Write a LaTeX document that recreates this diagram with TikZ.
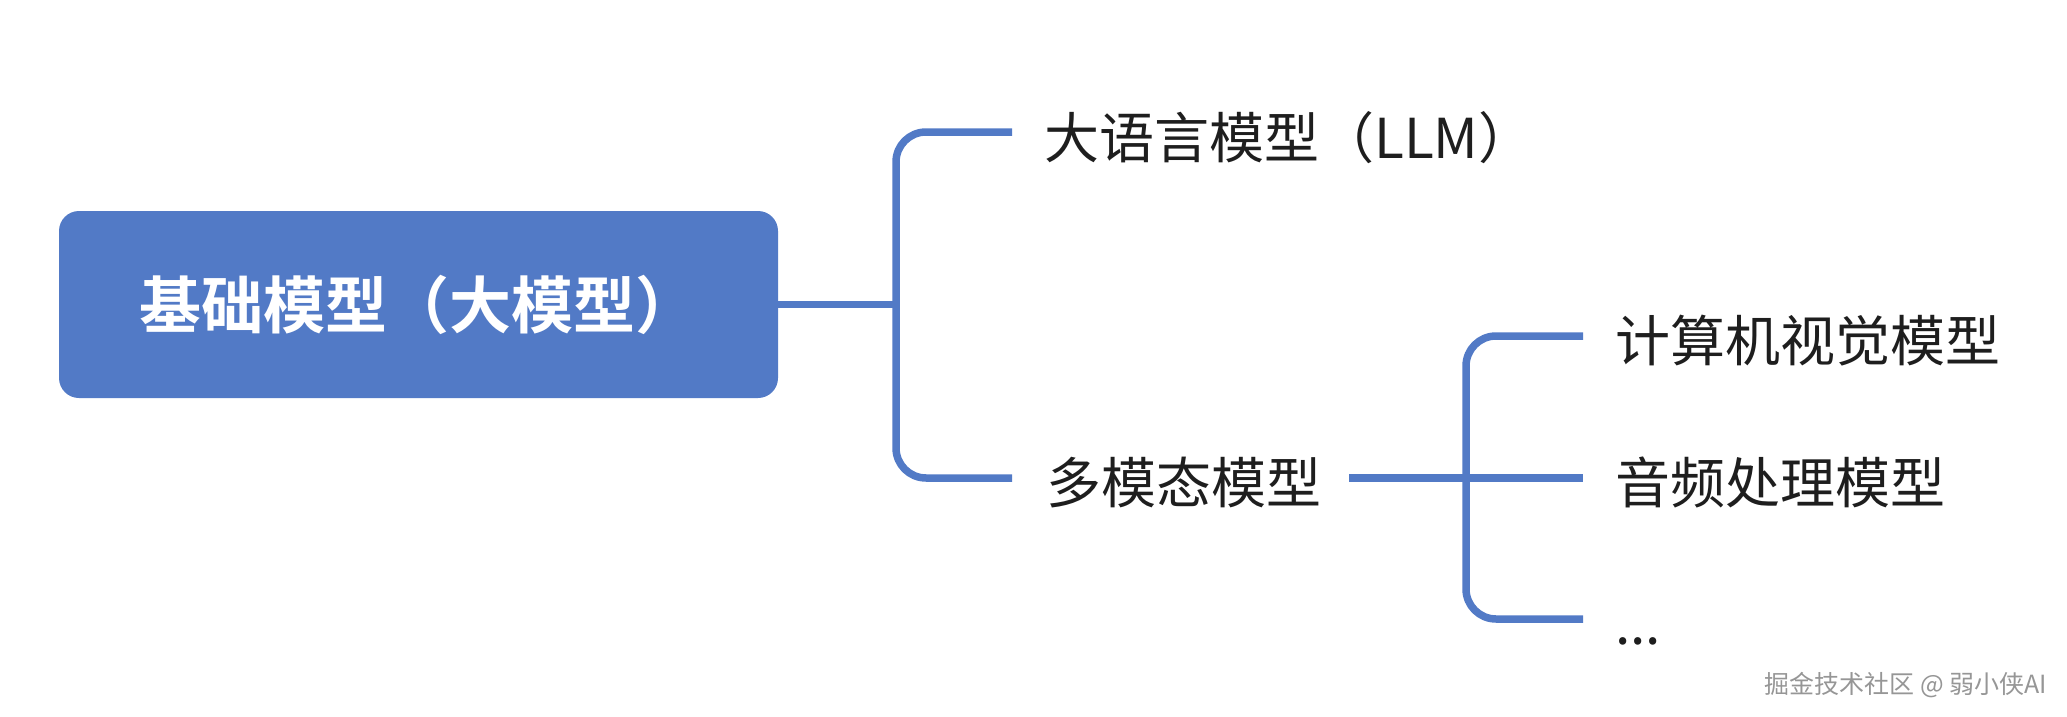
\documentclass[tikz,border=0pt]{standalone}
\usepackage{fontspec}
\setmainfont{Noto Sans CJK SC}[BoldFont={Noto Sans CJK SC Bold}]
\definecolor{brandblue}{RGB}{82,122,198}
\definecolor{inkdark}{RGB}{30,30,30}
\definecolor{wmgray}{RGB}{150,150,150}
\tikzset{
  mainbox/.style={fill=brandblue, draw=none, rounded corners=20pt, minimum width=719pt, minimum height=187pt, inner sep=0pt,
    text=white, font=\fontsize{62}{74}\selectfont\bfseries},
  leaf/.style={inner sep=0pt, text=inkdark, font=\fontsize{55}{66}\selectfont, anchor=base west},
  conn/.style={draw=brandblue, line width=7.5pt, rounded corners=30pt},
  watermark/.style={inner sep=0pt, text=wmgray, font=\fontsize{25}{30}\selectfont, anchor=base east}
}
\begin{document}
\begin{tikzpicture}[x=1pt, y=-1pt]
\useasboundingbox (0,0) rectangle (2067,717);
\node[mainbox] (root) at (418.5,304.5) {基础模型（大模型）};
\node[leaf] (llm) at (1044,158) {大语言模型（LLM）};
\node[leaf] (mm) at (1046,503) {多模态模型};
\node[leaf] (cv) at (1615,361) {计算机视觉模型};
\node[leaf] (audio) at (1615,503) {音频处理模型};
\node[leaf] (more) at (1615,644) {...};
\node[watermark] (wm) at (2047,693) {掘金技术社区 @ 弱小侠AI};
% first bracket
\coordinate (j1) at (896,304.5);
\coordinate (e1) at (1012,132);
\coordinate (e2) at (1012,478);
\draw[conn] (root.east) -- (j1);
\draw[conn] (e1) -| (j1) |- (e2);
% second bracket
\coordinate (s2) at (1349,478);
\coordinate (j2) at (1466,478);
\coordinate (f1) at (1583,336);
\coordinate (f2) at (1583,478);
\coordinate (f3) at (1583,619);
\draw[conn] (s2) -- (f2);
\draw[conn] (f1) -| (j2) |- (f3);
\end{tikzpicture}
\end{document}
